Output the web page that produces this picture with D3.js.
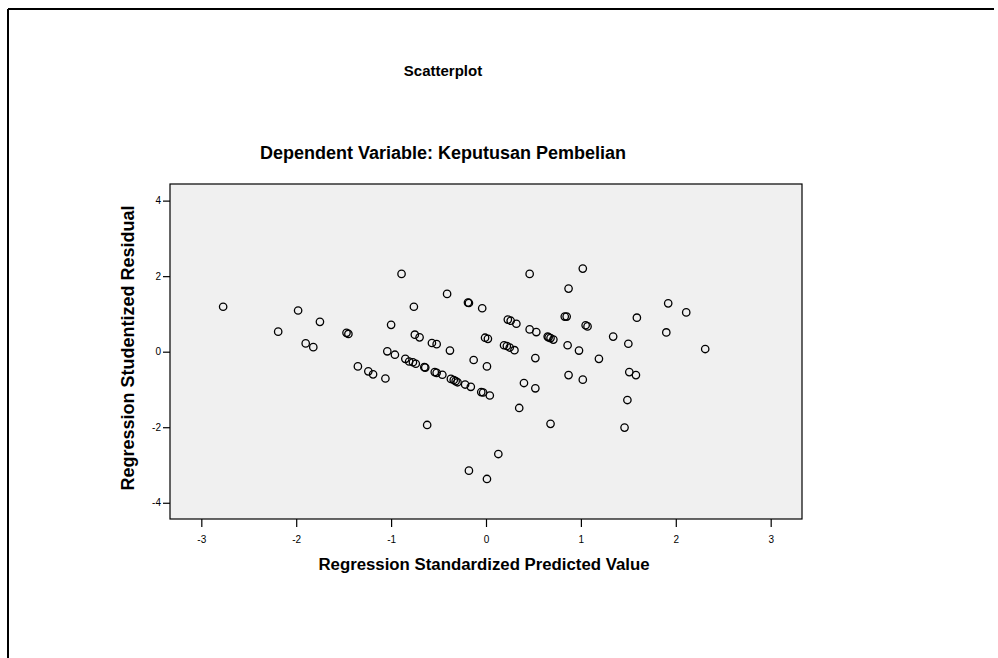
<!DOCTYPE html>
<html>
<head>
<meta charset="utf-8">
<script src="https://cdnjs.cloudflare.com/ajax/libs/d3/7.8.5/d3.min.js"></script>
<style>
  body { margin: 0; background: #fff; }
  svg { display: block; font-family: "Liberation Sans", Arial, sans-serif; }
</style>
</head>
<body>
<script>
// values
var predicted = [-2.77,-2.19,-1.98,-1.90,-1.82,-1.75,-1.47,-1.45,-1.35,-1.24,
  -1.19,-1.06,-1.04,-1.00,-0.96,-0.89,-0.85,-0.81,-0.77,-0.76,
  -0.75,-0.74,-0.70,-0.65,-0.64,-0.62,-0.57,-0.54,-0.52,-0.52,
  -0.46,-0.41,-0.38,-0.37,-0.34,-0.32,-0.30,-0.22,-0.19,-0.18,
  -0.18,-0.16,-0.13,-0.05,-0.03,-0.04,-0.01,0.02,0.01,0.01,
  0.04,0.13,0.19,0.22,0.25,0.30,0.23,0.26,0.32,0.35,
  0.40,0.46,0.46,0.53,0.52,0.52,0.65,0.66,0.68,0.71,
  0.68,0.83,0.85,0.86,0.87,0.87,0.98,1.02,1.02,1.05,
  1.07,1.19,1.34,1.46,1.49,1.50,1.51,1.58,1.59,1.90,
  1.92,2.11,2.31];
var residual = [1.19,0.53,1.09,0.22,0.12,0.79,0.50,0.47,-0.39,-0.52,
  -0.60,-0.71,0.01,0.71,-0.08,2.06,-0.19,-0.26,-0.28,1.19,
  0.45,-0.32,0.38,-0.41,-0.42,-1.94,0.23,-0.54,0.20,-0.56,
  -0.61,1.53,0.03,-0.72,-0.75,-0.78,-0.81,-0.87,1.30,1.29,
  -3.15,-0.93,-0.22,-1.07,-1.08,1.15,0.37,0.34,-0.39,-3.37,
  -1.16,-2.71,0.17,0.15,0.11,0.04,0.85,0.82,0.74,-1.49,
  -0.83,2.06,0.59,0.52,-0.17,-0.97,0.40,0.38,0.36,0.32,
  -1.91,0.93,0.93,0.17,-0.62,1.67,0.03,2.20,-0.74,0.70,
  0.67,-0.19,0.40,-2.01,-1.28,0.21,-0.54,-0.62,0.90,0.51,
  1.28,1.04,0.07];
var xTicks = [-3,-2,-1,0,1,2,3];
var yTicks = [-4,-2,0,2,4];

var w = 998, h = 658;
var plotLeft = 170, plotRight = 802, plotTop = 184, plotBottom = 519;

var svg = d3.select("body").append("svg")
  .attr("width", w).attr("height", h);

// outer frame (top and left edges visible)
svg.append("line").attr("x1", 8).attr("x2", 994).attr("y1", 9).attr("y2", 9)
  .attr("stroke", "#000").attr("stroke-width", 2);
svg.append("line").attr("x1", 8).attr("x2", 8).attr("y1", 9).attr("y2", h)
  .attr("stroke", "#000").attr("stroke-width", 2);

var xScale = d3.scaleLinear().domain([-3.33, 3.33]).range([plotLeft, plotRight]);
var yScale = d3.scaleLinear().domain([-4.43, 4.44]).range([plotBottom, plotTop]);

svg.append("rect")
  .attr("x", plotLeft).attr("y", plotTop)
  .attr("width", plotRight - plotLeft).attr("height", plotBottom - plotTop)
  .attr("fill", "#f0f0f0").attr("stroke", "#000").attr("stroke-width", 1.2);

var fmt = function(d) { return String(d); };
var xAxis = d3.axisBottom(xScale).tickValues(xTicks).tickFormat(fmt).tickSize(8).tickSizeOuter(0);
var yAxis = d3.axisLeft(yScale).tickValues(yTicks).tickFormat(fmt).tickSize(7).tickSizeOuter(0);

var gx = svg.append("g").attr("transform", "translate(0," + plotBottom + ")").call(xAxis);
var gy = svg.append("g").attr("transform", "translate(" + plotLeft + ",0)").call(yAxis);
[gx, gy].forEach(function(g) {
  g.select(".domain").remove();
  g.selectAll("line").attr("stroke", "#000").attr("stroke-width", 1.2);
  g.selectAll("text").attr("font-size", 10).attr("fill", "#000")
    .attr("font-family", "'Liberation Sans', Arial, sans-serif");
});
gx.selectAll("text").attr("dy", "1.25em");
gy.selectAll("text").attr("x", -9);

// points
svg.append("g").selectAll("circle")
  .data(predicted)
  .enter()
  .append("circle")
  .attr("cx", function(d) { return xScale(d); })
  .attr("cy", function(d, i) { return yScale(residual[i]); })
  .attr("r", 3.7)
  .attr("fill", "none")
  .attr("stroke", "#000")
  .attr("stroke-width", 1.3);

// titles
svg.append("text").attr("x", 443).attr("y", 76)
  .attr("text-anchor", "middle").attr("font-size", 15).attr("font-weight", "bold")
  .text("Scatterplot");
svg.append("text").attr("x", 443).attr("y", 159)
  .attr("text-anchor", "middle").attr("font-size", 18).attr("font-weight", "bold")
  .text("Dependent Variable: Keputusan Pembelian");
svg.append("text").attr("x", 484).attr("y", 570)
  .attr("text-anchor", "middle").attr("font-size", 16.8).attr("font-weight", "bold")
  .text("Regression Standardized Predicted Value");
svg.append("text")
  .attr("transform", "translate(134,348) rotate(-90)")
  .attr("text-anchor", "middle").attr("font-size", 18).attr("font-weight", "bold")
  .text("Regression Studentized Residual");
</script>
</body>
</html>
